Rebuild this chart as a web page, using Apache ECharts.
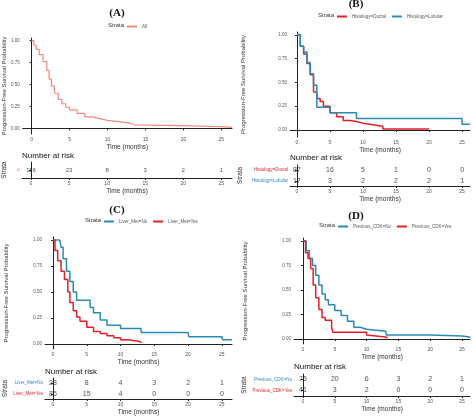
<!doctype html>
<html>
<head>
<meta charset="UTF-8">
<script src="https://cdn.jsdelivr.net/npm/echarts@6/dist/echarts.min.js"></script>
<style>
  * { margin: 0; padding: 0; }
  body { background: #fff; }
  #chart { width: 474px; height: 417px; }
</style>
</head>
<body>
<div id="chart"></div>
<script>
  const RED = '#e41f2a'
  const BLUE = '#2a8ab4'
  const SALMON = '#f28a80'
  const riskTimes = [0, 5, 10, 15, 20, 25]

  // survival curves, [months, probability]
  const allCurve = [[0,1],[0.3,0.95],[0.6,0.9],[1,0.84],[1.5,0.76],[2,0.66],[2.3,0.56],[2.6,0.48],[3,0.4],[3.5,0.33],[4,0.28],[4.5,0.24],[5,0.21],[6,0.17],[7,0.13],[8,0.11],[9,0.09],[10,0.07],[12,0.06],[13,0.04],[13.5,0.03],[20,0.02],[25,0.01],[26.4,0.01]]
  const ductalCurve = [[0,1],[0.5,0.88],[1,0.8],[1.5,0.7],[2,0.58],[2.5,0.4],[3,0.33],[3.5,0.3],[4,0.25],[5,0.18],[6,0.14],[7,0.1],[8,0.09],[9,0.07],[10,0.05],[12,0.04],[13,0.01],[20,0.01]]
  const lobularCurve = [[0,1],[0.5,0.88],[1,0.82],[1.5,0.71],[2,0.59],[2.5,0.47],[3,0.24],[4.5,0.24],[5,0.18],[9,0.12],[25,0.12],[25,0.06],[26.2,0.06]]
  const liverNoCurve = [[0,1],[1,1],[1.2,0.93],[1.5,0.82],[2,0.7],[2.5,0.6],[3,0.5],[3.5,0.42],[5,0.42],[5.5,0.35],[6,0.3],[7,0.23],[8,0.18],[10,0.15],[13,0.15],[13.1,0.11],[20,0.11],[20.1,0.07],[25,0.07],[25.1,0.04],[26.5,0.04]]
  const liverYesCurve = [[0,1],[0.3,0.9],[0.7,0.8],[1.2,0.7],[1.7,0.62],[2.2,0.5],[2.5,0.4],[3,0.32],[3.5,0.26],[4,0.22],[5,0.16],[6,0.12],[7,0.1],[8,0.08],[9,0.06],[10,0.04],[11,0.03],[12.5,0.02],[13,0.01]]
  const cdkNoCurve = [[0,1],[0.5,0.9],[1,0.82],[1.5,0.75],[2,0.65],[2.5,0.55],[3,0.46],[3.5,0.4],[4,0.35],[5,0.29],[6,0.24],[7,0.18],[8,0.12],[9,0.1],[10,0.08],[13,0.08],[13.1,0.04],[20,0.04],[20.1,0.03],[25,0.02],[26.2,0.01]]
  const cdkYesCurve = [[0,1],[0.4,0.88],[0.8,0.82],[1.2,0.72],[1.6,0.55],[2,0.42],[2.5,0.3],[3,0.22],[3.5,0.19],[4.5,0.12],[4.7,0.07],[9.5,0.07],[10,0.04],[10.3,0.02],[13,0.02],[13.3,0.01]]

  // number at risk
  const allRisk = [116, 23, 8, 3, 2, 1]
  const ductalRisk = [87, 16, 5, 1, 0, 0]
  const lobularRisk = [17, 3, 2, 2, 2, 1]
  const liverNoRisk = [28, 8, 4, 3, 2, 1]
  const liverYesRisk = [86, 15, 4, 0, 0, 0]
  const cdkNoRisk = [75, 20, 6, 3, 2, 1]
  const cdkYesRisk = [41, 3, 2, 0, 0, 0]

  const panels = [
    { title: '(A)', tx: 117, ty: 8, ly: 24, llx: 127, plot: [22, 38, 210, 96], y: [-0.065, 1.03], x: [-1.18, 26.4],
      risk: [22, 162, 210, 16], nay: 152, fs: 6, yGap: 14, rGap: 14,
      strata: [{ name: 'All', curve: allCurve, risk: allRisk, color: SALMON }] },
    { title: '(B)', tx: 356, ty: -1, ly: 14, llx: 337, plot: [290, 32, 180, 105], y: [-0.074, 1.03], x: [-1.06, 26.2],
      risk: [290, 165, 180, 21], nay: 154, fs: 7, yGap: 44, rGap: 46,
      strata: [{ name: 'Histology=Ductal', curve: ductalCurve, risk: ductalRisk, color: RED },
               { name: 'Histology=Lobular', curve: lobularCurve, risk: lobularRisk, color: BLUE }] },
    { title: '(C)', tx: 117, ty: 205, ly: 219, llx: 104, plot: [45, 237, 187, 112], y: [-0.048, 1.029], x: [-1.18, 26.5],
      risk: [45, 378, 187, 22], nay: 368, fs: 7, yGap: 36, rGap: 36,
      strata: [{ name: 'Liver_Met=No', curve: liverNoCurve, risk: liverNoRisk, color: BLUE },
               { name: 'Liver_Met=Yes', curve: liverYesCurve, risk: liverYesRisk, color: RED }] },
    { title: '(D)', tx: 356, ty: 211, ly: 224, llx: 338, plot: [294, 238, 176, 106], y: [-0.051, 1.03], x: [-1.41, 26.26],
      risk: [294, 374, 176, 22], nay: 363, fs: 7, yGap: 46, rGap: 46,
      strata: [{ name: 'Previous_CDK=No', curve: cdkNoCurve, risk: cdkNoRisk, color: BLUE },
               { name: 'Previous_CDK=Yes', curve: cdkYesCurve, risk: cdkYesRisk, color: RED }] }
  ]

  const option = { animation: false, title: [], legend: [], grid: [], xAxis: [], yAxis: [], series: [] }
  const axisLine = { show: true, lineStyle: { color: '#222', width: 1 } }
  const tick = { show: true, length: 2, lineStyle: { color: '#222' } }
  const font = 'Liberation Sans, Arial, sans-serif'

  panels.forEach((p, i) => {
    option.title.push({ text: p.title, left: p.tx, top: p.ty, textAlign: 'center', padding: 0,
      textStyle: { fontFamily: 'Liberation Serif, serif', fontWeight: 'bold', fontSize: 11, color: '#111' } })
    option.title.push({ text: 'Number at risk', left: p.risk[0], top: p.nay, padding: 0,
      textStyle: { fontFamily: font, fontWeight: 'normal', fontSize: 8, color: '#111' } })
    const names = p.strata.map(s => s.name)
    option.title.push({ text: 'Strata', left: p.llx - 19, top: p.ly - 2, padding: 0,
      textStyle: { fontFamily: font, fontWeight: 'normal', fontSize: 6, color: '#333' } })
    option.legend.push({ data: names, left: p.llx, top: p.ly, itemWidth: 10, itemHeight: 2, itemGap: 6,
      icon: 'rect', textStyle: { fontSize: 4.5, color: '#555', fontFamily: font }, padding: 0 })

    const gp = option.grid.length
    option.grid.push({ left: p.plot[0], top: p.plot[1], width: p.plot[2], height: p.plot[3] })
    option.grid.push({ left: p.risk[0], top: p.risk[1], width: p.risk[2], height: p.risk[3] })

    const xBase = (g) => ({ type: 'value', gridIndex: g, min: p.x[0], max: p.x[1], splitLine: { show: false },
      axisLine, axisTick: { ...tick, customValues: riskTimes },
      axisLabel: { customValues: riskTimes, fontSize: 5, color: '#555', margin: 3, fontFamily: font },
      name: 'Time (months)', nameLocation: 'middle', nameGap: 10,
      nameTextStyle: { fontSize: 6.5, color: '#333', fontFamily: font } })
    option.xAxis.push(xBase(gp), xBase(gp + 1))

    const yTicks = [0, 0.25, 0.5, 0.75, 1]
    option.yAxis.push({ type: 'value', gridIndex: gp, min: p.y[0], max: p.y[1], splitLine: { show: false },
      axisLine, axisTick: { ...tick, customValues: yTicks },
      axisLabel: { customValues: yTicks, formatter: v => v.toFixed(2), fontSize: 4.5, color: '#555', margin: 3, fontFamily: font },
      name: 'Progression-Free Survival Probability', nameLocation: 'middle', nameGap: p.yGap,
      nameTextStyle: { fontSize: 6, color: '#333', fontFamily: font } })
    option.yAxis.push({ type: 'category', gridIndex: gp + 1, data: names, inverse: true,
      axisLine, axisTick: { ...tick, alignWithLabel: true },
      axisLabel: { fontSize: p.strata.length === 1 ? 3 : 4.5, margin: 2, fontFamily: font,
        color: (v, idx) => p.strata[idx].color },
      name: 'Strata', nameLocation: 'middle', nameGap: p.rGap,
      nameTextStyle: { fontSize: 6.5, color: '#333', fontFamily: font } })

    p.strata.forEach((s, k) => {
      option.series.push({ type: 'line', name: s.name, step: 'end', data: s.curve, xAxisIndex: gp, yAxisIndex: gp,
        showSymbol: false, color: s.color, lineStyle: { width: p.strata.length === 1 ? 1.2 : 1.5, color: s.color } })
      option.series.push({ type: 'scatter', data: riskTimes.map((t, j) => [t, k, s.risk[j]]),
        xAxisIndex: gp + 1, yAxisIndex: gp + 1, symbolSize: 0, silent: true,
        label: { show: true, position: 'inside', formatter: q => q.data[2], fontSize: p.fs, color: '#222', fontFamily: font } })
    })
  })

  const chart = echarts.init(document.getElementById('chart'))
  chart.setOption(option)
</script>
</body>
</html>
